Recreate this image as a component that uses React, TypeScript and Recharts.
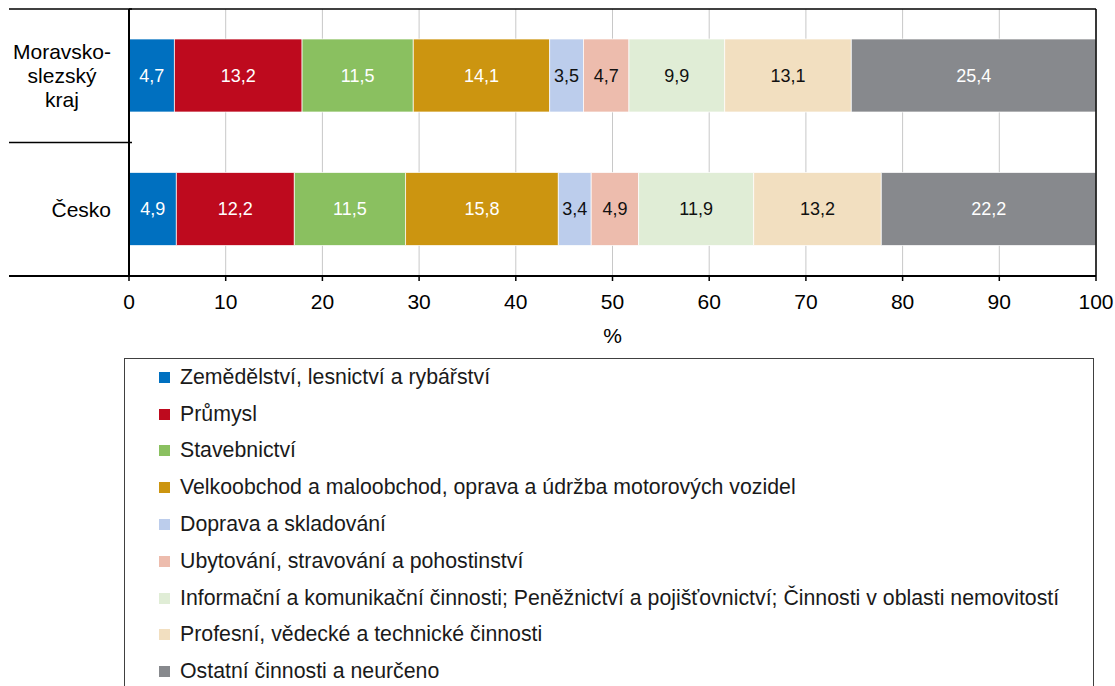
import React from 'react';
import {
  BarChart,
  Bar,
  XAxis,
  YAxis,
  CartesianGrid,
  ReferenceLine,
  LabelList,
  Legend,
} from 'recharts';

// ---- data ----
const categories = ['Moravskoslezský kraj', 'Česko'];
const categoryLines = [['Moravsko-', 'slezský', 'kraj'], ['Česko']];

const seriesNames = [
  'Zemědělství, lesnictví a rybářství',
  'Průmysl',
  'Stavebnictví',
  'Velkoobchod a maloobchod, oprava a údržba motorových vozidel',
  'Doprava a skladování',
  'Ubytování, stravování a pohostinství',
  'Informační a komunikační činnosti; Peněžnictví a pojišťovnictví; Činnosti v oblasti nemovitostí',
  'Profesní, vědecké a technické činnosti',
  'Ostatní činnosti a neurčeno',
];
const seriesColors = ['#0070C0', '#BE0A1E', '#8AC060', '#CC9510', '#BCCDEC', '#EDBCAD', '#E0EDD6', '#F2DFC0', '#87898D'];
const labelColors = ['#FFFFFF', '#FFFFFF', '#FFFFFF', '#FFFFFF', '#111111', '#111111', '#111111', '#111111', '#FFFFFF'];

const zemedelstvi = [4.7, 4.9];
const prumysl = [13.2, 12.2];
const stavebnictvi = [11.5, 11.5];
const obchod = [14.1, 15.8];
const doprava = [3.5, 3.4];
const ubytovani = [4.7, 4.9];
const informacni = [9.9, 11.9];
const profesni = [13.1, 13.2];
const ostatni = [25.4, 22.2];

const xTicks = [0, 10, 20, 30, 40, 50, 60, 70, 80, 90, 100];

const seriesValues = [zemedelstvi, prumysl, stavebnictvi, obchod, doprava, ubytovani, informacni, profesni, ostatni];

const data = categories.map((name, i) => {
  const row: Record<string, any> = { name };
  seriesValues.forEach((vals, j) => {
    row['s' + j] = vals[i];
  });
  return row;
});

const FONT = "'Liberation Sans', Arial, Helvetica, sans-serif";

let measureCtx: CanvasRenderingContext2D | null = null;
function measure(t: string): number {
  if (!measureCtx) measureCtx = document.createElement('canvas').getContext('2d');
  if (!measureCtx) return t.length * 10;
  measureCtx.font = "21px 'Liberation Sans', Arial";
  return measureCtx.measureText(t).width;
}

const CategoryTick = (props: any) => {
  const { x, y, payload } = props;
  const idx = categories.indexOf(payload.value);
  const lines = categoryLines[idx] || [String(payload.value)];
  const half = payload.offset && payload.offset > 0 ? payload.offset : 66.75;
  const maxW = Math.max(...lines.map(measure));
  const cx = x - maxW / 2;
  const lh = 24;
  const y0 = y - ((lines.length - 1) * lh) / 2;
  return (
    <g>
      <line x1={x - 102} x2={x + 21} y1={y - half} y2={y - half} stroke="#000" strokeWidth={1.5} />
      {idx === categories.length - 1 && (
        <line x1={x - 102} x2={x + 18} y1={y + half} y2={y + half} stroke="#000" strokeWidth={2} />
      )}
      <text textAnchor="middle" fontSize={21} fontFamily={FONT} fill="#000">
        {lines.map((l, i) => (
          <tspan key={i} x={cx} y={y0 + i * lh} dy="0.35em">
            {l}
          </tspan>
        ))}
      </text>
    </g>
  );
};

const LegendBox = () => (
  <div
    style={{
      boxSizing: 'border-box',
      width: '100%',
      height: '100%',
      border: '1px solid #404040',
      background: '#fff',
      paddingLeft: 34,
      fontFamily: FONT,
      fontSize: 21.3,
      color: '#1a1a1a',
    }}
  >
    {seriesNames.map((n, i) => (
      <div key={n} style={{ height: 36.8, display: 'flex', alignItems: 'center', whiteSpace: 'nowrap' }}>
        <span style={{ display: 'inline-block', width: 11, height: 11, background: seriesColors[i], marginRight: 10 }} />
        <span>{n}</span>
      </div>
    ))}
  </div>
);

const fmt = (v: any) => (typeof v === 'number' ? v.toFixed(1).replace('.', ',') : v);

export default function App() {
  return (
    <div style={{ position: 'absolute', left: 0, top: 0, width: 1115, height: 686, background: '#fff', overflow: 'hidden' }}>
      <BarChart
        width={1115}
        height={686}
        data={data}
        layout="vertical"
        barSize={73}
        margin={{ top: 9, right: 19, bottom: 340, left: 9 }}
      >
        <CartesianGrid horizontal={false} stroke="#C8C8C8" strokeWidth={1} />
        <CartesianGrid
          vertical={false}
          stroke="#000"
          strokeWidth={1.5}
          horizontalCoordinatesGenerator={({ offset }: any) => [offset.top]}
        />
        <XAxis
          type="number"
          domain={[0, 100]}
          allowDataOverflow
          ticks={xTicks}
          interval={0}
          tickSize={5}
          tickMargin={13}
          height={70}
          axisLine={{ stroke: '#000', strokeWidth: 2 }}
          tickLine={{ stroke: '#000', strokeWidth: 1.5 }}
          tick={{ fontSize: 21, fill: '#000', fontFamily: FONT }}
          label={{ value: '%', position: 'insideBottom', offset: 3, fontSize: 21, fill: '#000', fontFamily: FONT }}
        />
        <YAxis
          type="category"
          dataKey="name"
          width={120}
          tickSize={0}
          tickMargin={18}
          tickLine={false}
          axisLine={{ stroke: '#000', strokeWidth: 2 }}
          tick={<CategoryTick />}
          interval={0}
        />
        {seriesNames.map((n, j) => (
          <Bar
            key={n}
            dataKey={'s' + j}
            name={n}
            stackId="a"
            fill={seriesColors[j]}
            stroke="#ffffff"
            strokeWidth={0.7}
            isAnimationActive={false}
          >
            <LabelList
              dataKey={'s' + j}
              position="center"
              formatter={fmt}
              fill={labelColors[j]}
              fontSize={18}
              fontFamily={FONT}
            />
          </Bar>
        ))}
        <ReferenceLine x={100} stroke="#000" strokeWidth={1.5} />
        <Legend
          layout="vertical"
          align="center"
          verticalAlign="middle"
          width={970}
          height={360}
          wrapperStyle={{ left: 124, top: 358, width: 970, height: 360 }}
          content={<LegendBox />}
        />
      </BarChart>
    </div>
  );
}
